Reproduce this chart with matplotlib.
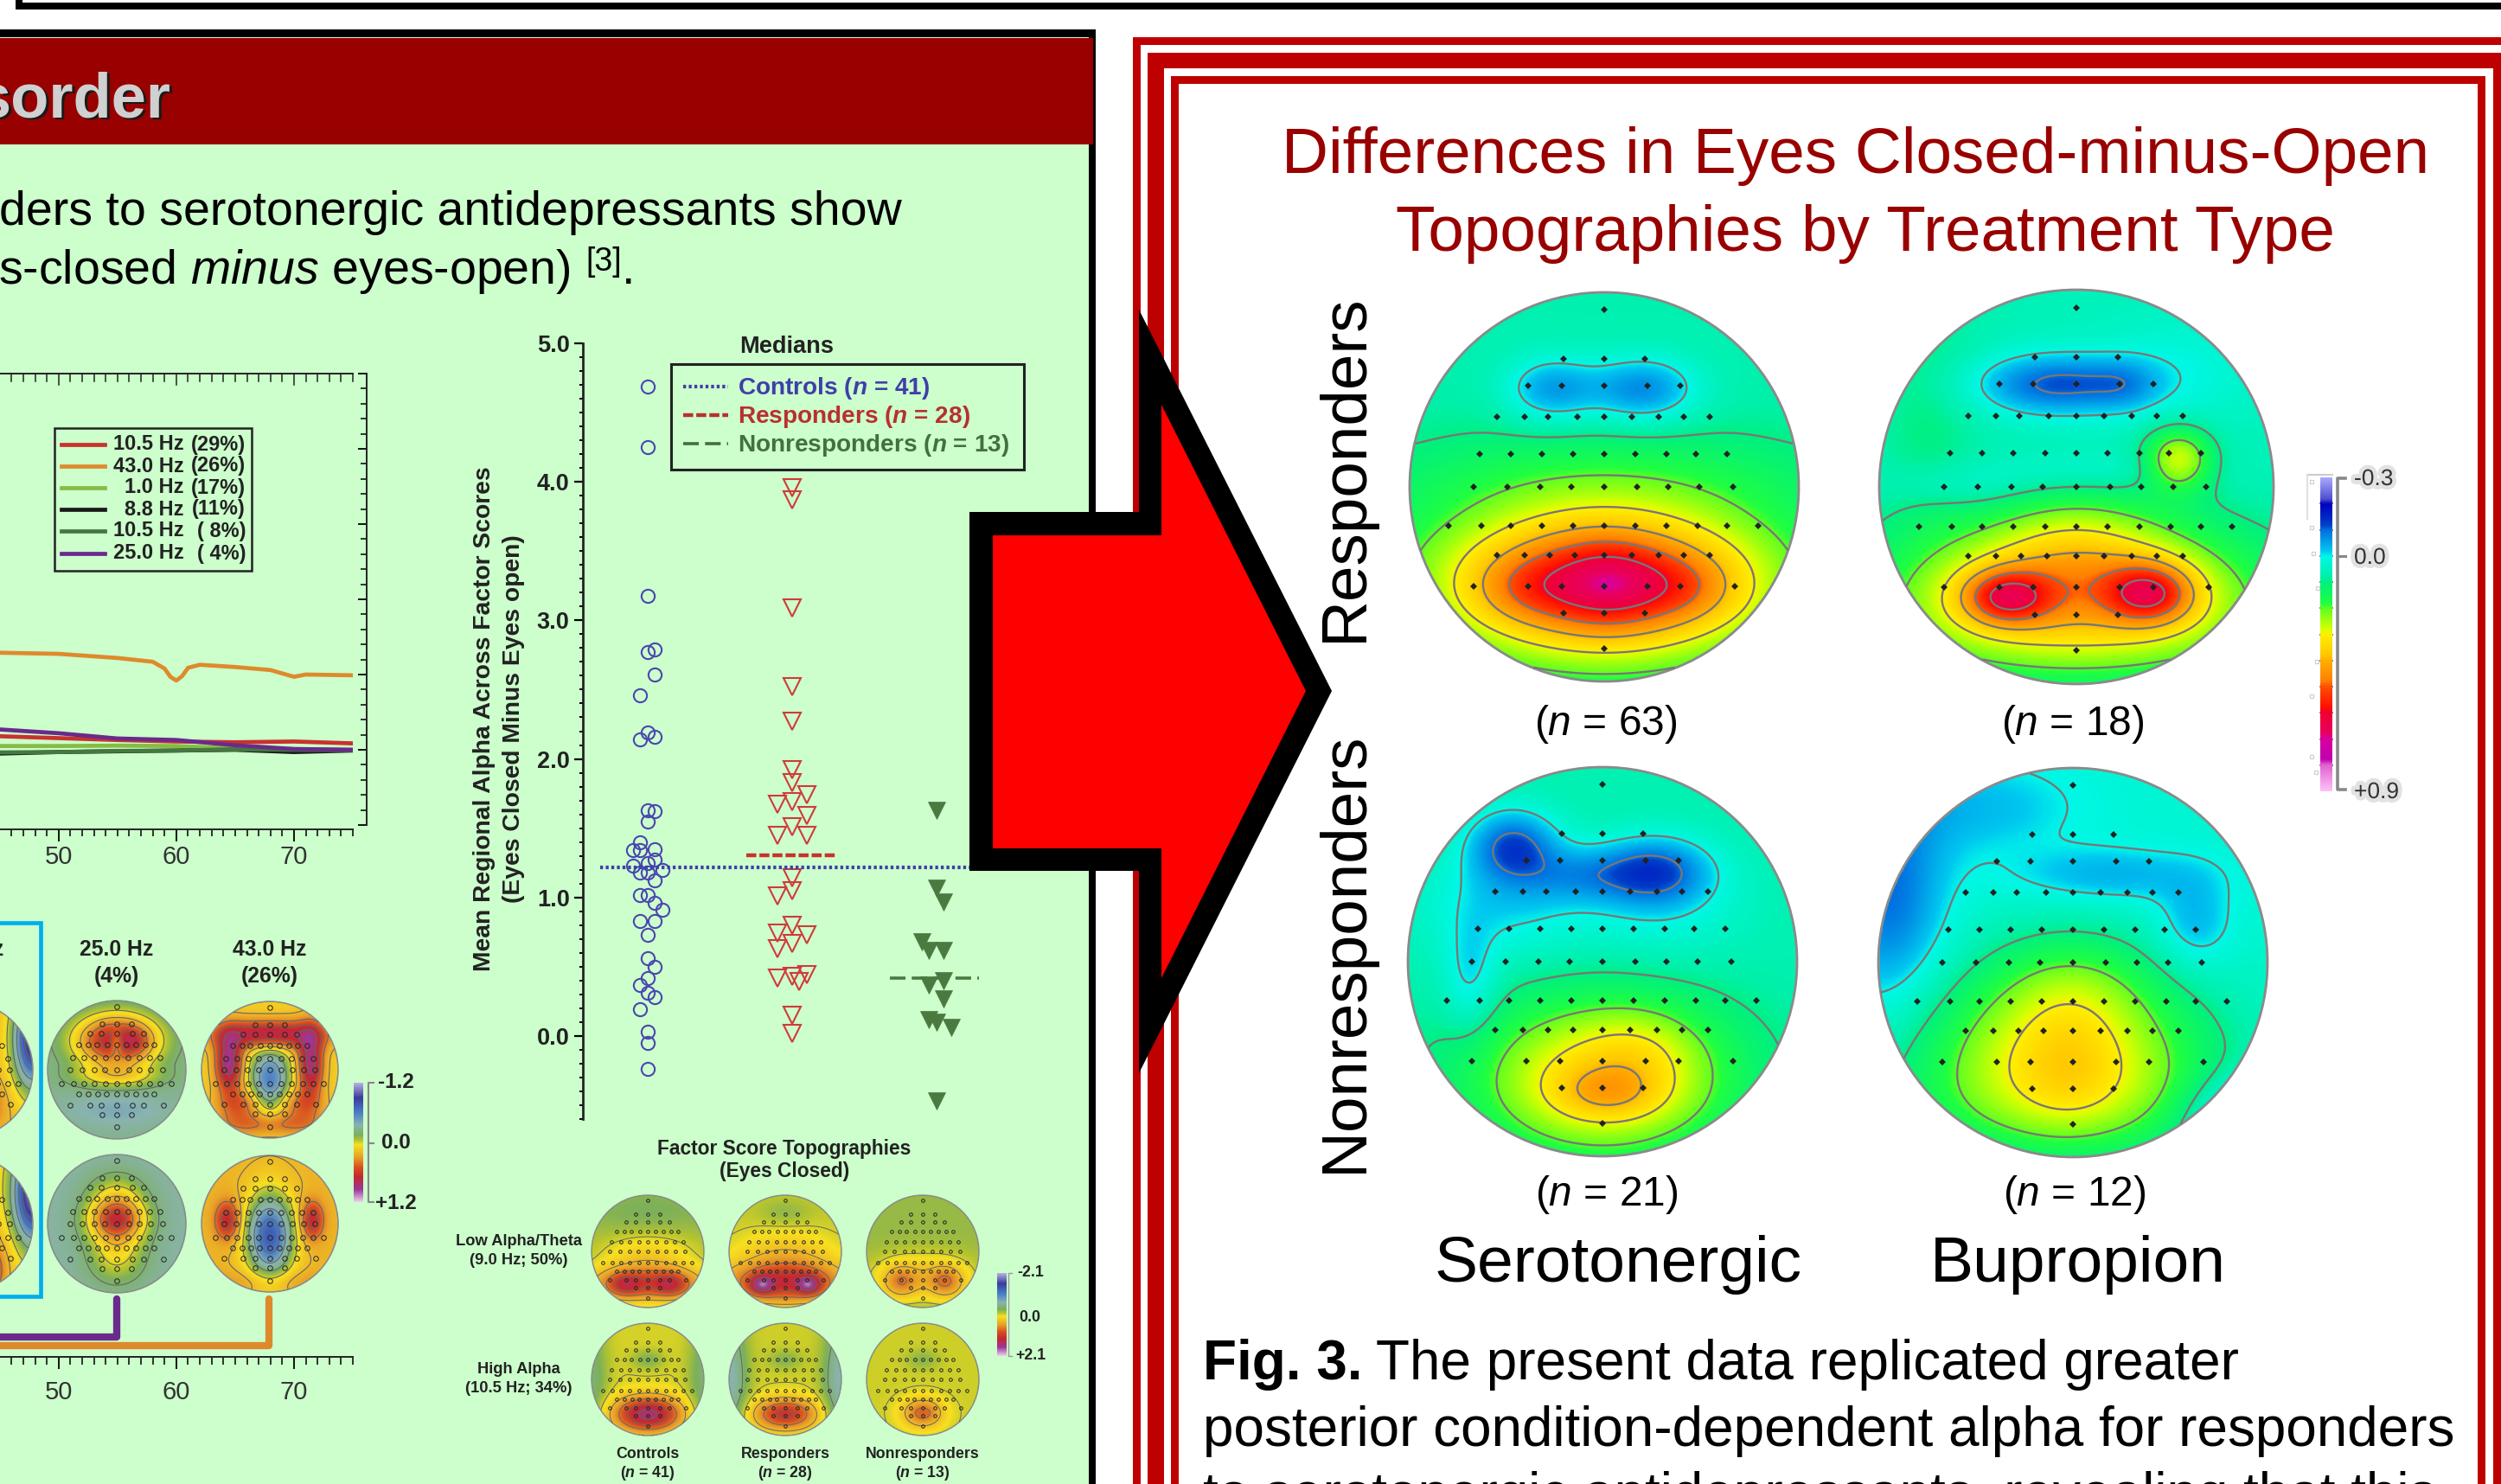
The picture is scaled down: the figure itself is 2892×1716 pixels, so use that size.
import matplotlib
matplotlib.use('Agg')
import matplotlib.pyplot as plt
import numpy as np
from matplotlib.colors import LinearSegmentedColormap
from matplotlib.patches import Rectangle, Polygon, Ellipse
from matplotlib.ticker import MultipleLocator, NullFormatter, NullLocator
import matplotlib.patheffects as pe

plt.rcParams['font.family'] = ['Liberation Sans', 'DejaVu Sans']
plt.rcParams['mathtext.fontset'] = 'custom'
plt.rcParams['mathtext.it'] = 'Liberation Sans:italic'
plt.rcParams['mathtext.rm'] = 'Liberation Sans'
plt.rcParams['mathtext.bfit'] = 'Liberation Sans:italic:bold'
plt.rcParams['mathtext.bf'] = 'Liberation Sans:bold'

W, H = 2892, 1716

# spectra lines, frequency (Hz) against loading
freq = [45, 50, 55, 58, 59, 59.5, 60, 60.5, 61, 62, 65, 68, 70, 71, 75]
load_43 = [1.29, 1.275, 1.22, 1.17, 1.08, 0.97, 0.92, 0.98, 1.09, 1.13, 1.10, 1.06, 0.97, 1.0, 0.99]
freq2 = [45, 50, 55, 60, 65, 70, 75]
load_25 = [0.27, 0.22, 0.15, 0.13, 0.06, 0.01, 0.0]
load_105a = [0.18, 0.155, 0.13, 0.11, 0.10, 0.11, 0.085]
load_10 = [0.05, 0.05, 0.055, 0.05, 0.02, 0.01, 0.0]
load_88 = [-0.05, -0.03, -0.02, -0.01, 0.0, -0.03, -0.01]
load_105b = [-0.035, -0.03, -0.015, -0.01, 0.005, 0.0, -0.005]
spec_names = ['10.5 Hz', '43.0 Hz', '1.0 Hz', '8.8 Hz', '10.5 Hz', '25.0 Hz']
spec_pct = ['(29%)', '(26%)', '(17%)', '(11%)', '( 8%)', '( 4%)']
spec_cols = ['#C8322D', '#DE8A2C', '#86BC45', '#1A1A1A', '#44783F', '#6A2A8C']

# scatter of regional alpha
ctrl_off = [0, 0, 0, 0, 1, 1, -1, 0, 1, -1, 0, 1, 0, -1, -2, -1, 1, 0, 1, -2, -1, 0, 2, 1, -1, 0, 1, 2, -1, 1, 0, 0, 1, 0, -1, 0, 1, -1, 0, 0, 0]
ctrl_val = [4.69, 4.25, 3.18, 2.77, 2.79, 2.61, 2.46, 2.19, 2.16, 2.14, 1.63, 1.62, 1.55, 1.40, 1.34, 1.34, 1.35, 1.25, 1.27, 1.23, 1.18, 1.18, 1.20, 1.12, 1.02, 1.02, 0.96, 0.91, 0.83, 0.83, 0.73, 0.56, 0.50, 0.42, 0.37, 0.31, 0.28, 0.19, 0.03, -0.05, -0.24]
resp_off = [0, 0, 0, 0, 0, 0, 0, 2, -2, 0, 2, 0, -2, 2, 0, 0, -2, 0, -2, 2, 0, -2, -2, 0, 2, 1, 0, 0]
resp_val = [3.96, 3.87, 3.09, 2.52, 2.27, 1.92, 1.83, 1.74, 1.67, 1.69, 1.59, 1.51, 1.45, 1.45, 1.14, 1.05, 1.01, 0.80, 0.74, 0.73, 0.67, 0.63, 0.42, 0.43, 0.44, 0.39, 0.15, 0.02]
nonr_off = [0, 0, 1, -2, -1, 1, 1, -1, 1, -1, 0, 2, 0]
nonr_val = [1.63, 1.07, 0.97, 0.68, 0.62, 0.62, 0.40, 0.37, 0.27, 0.12, 0.10, 0.06, -0.47]
median_ctrl = 1.215
median_resp = 1.305
median_nonr = 0.42

# electrode rows, head coordinates
elec_v = [-0.91, -0.66, -0.52, -0.36, -0.17, 0.0, 0.2, 0.35, 0.51, 0.65, 0.83]
elec_u = [[0], [-.21, 0, .21], [-.39, -.22, 0, .22, .39],
          [-.55, -.41, -.29, -.14, 0, .14, .28, .41, .54],
          [-.64, -.48, -.32, -.16, 0, .16, .32, .47, .63],
          [-.67, -.5, -.33, -.17, 0, .17, .33, .49, .66],
          [-.8, -.63, -.48, -.32, -.16, 0, .16, .32, .48, .63, .79],
          [-.55, -.41, -.28, -.15, 0, .14, .28, .41, .54],
          [-.67, -.39, -.22, 0, .22, .39, .67], [-.21, 0, .21], [0]]

# topographies: background level and (u, v, su, sv, amplitude) bumps read by eye
map_s_resp = (0.07, [(0, .5, .52, .25, .4), (0, .42, .85, .42, .13), (-.27, -.5, .17, .12, -.13), (.2, -.5, .2, .12, -.15),
                     (.02, .5, .17, .15, .08), (0, -.05, .9, .14, .03), (-.4, .52, .2, .12, .07), (.4, .52, .2, .12, .07)])
map_b_resp = (0.06, [(0, .52, .6, .25, .3), (0, .3, .3, .2, .1), (-.36, .56, .16, .1, .28), (.38, .54, .16, .11, .28),
                     (-.1, -.52, .3, .11, -.17), (.25, -.52, .12, .09, -.05), (.55, -.6, .3, .2, -.04), (.52, -.14, .12, .11, .22),
                     (-.6, .0, .25, .08, -.04), (.05, -.08, .4, .08, -.04), (0, .75, .9, .2, .08), (-.75, -.4, .2, .5, .04)])
map_s_nonr = (0.07, [(0, .6, .45, .28, .27), (-.46, -.6, .16, .13, -.17), (.27, -.47, .2, .12, -.16), (-.12, -.45, .2, .1, -.08),
                     (.3, -.3, .3, .2, -.06), (-.5, -.3, .3, .2, -.08), (-.68, .1, .1, .2, -.08), (.03, .68, .2, .1, .1), (.2, .45, .2, .15, .05)])
map_b_nonr = (0.03, [(-.05, .48, .5, .32, .27), (-.02, .55, .17, .2, .04), (-.95, -.35, .2, .4, -.13), (-.5, -.8, .4, .18, -.06), (.2, -.45, .35, .1, -.07),
                     (.63, -.2, .14, .17, -.07), (.0, .1, .28, .2, .08), (0, .75, .7, .2, .06), (.9, .8, .22, .15, -.15)])
map_25_a = (-.28, [(0, -.42, .42, .27, 1.05), (0, -.38, .07, .13, -.35), (.28, -.42, .13, .13, .15), (0, .1, .45, .12, .3), (0, .58, .45, .15, -.12)])
map_25_b = (-.32, [(0, -.05, .3, .22, .75), (0, -.4, .3, .25, .3), (0, .45, .3, .3, .35), (0, -.05, .12, .1, .1)])
map_43_a = (.12, [(0, .15, .2, .36, -.72), (0, -.52, .55, .15, .75), (-.6, -.1, .14, .3, .8), (.6, -.1, .13, .35, .75),
                  (0, .8, .6, .13, .35), (-.4, .5, .25, .16, .35), (.4, .5, .25, .16, .3)])
map_43_b = (.22, [(0, .18, .24, .42, -.98), (-.62, -.05, .13, .2, .5), (.62, -.05, .12, .2, .5), (0, .85, .7, .12, .12)])
map_left_a = (.2, [(1.0, -.45, .2, .5, -1.2), (.2, .5, .2, .22, .55)])
map_left_b = (.1, [(1.0, -.45, .2, .5, -1.2), (.2, .7, .2, .22, .85), (.2, .5, .3, .4, .25)])
map_low_c = (-.15, [(0, .58, .75, .22, 1.1), (-.42, .6, .2, .15, .5), (.42, .6, .2, .15, .5), (0, .05, .6, .28, .35), (0, -.7, .8, .3, -.12)])
map_low_r = (-.05, [(0, .55, .75, .26, 1.25), (-.42, .6, .14, .11, .8), (.42, .6, .14, .11, .8), (0, 0, .6, .28, .3), (0, -.7, .3, .15, -.15)])
map_low_n = (-.18, [(-.4, .55, .22, .2, .55), (.42, .55, .22, .2, .6), (0, .45, .65, .3, .45)])
map_high_c = (0, [(0, .62, .42, .22, 1.5), (0, -.35, .2, .12, -.25), (-1, 0, .2, .8, -.35), (1, 0, .2, .8, -.35)])
map_high_r = (-.02, [(0, .62, .4, .2, 1.15), (0, -.35, .2, .12, -.22), (-1, 0, .22, .8, -.6), (1, 0, .22, .8, -.6)])
map_high_n = (-.02, [(0, .6, .25, .18, .82), (0, -.35, .2, .12, -.2)])

rain_v = [-.3, -.22, -.2, -.12, -.1, -.02, 0, .08, .1, .18, .2, .28, .3, .38, .4, .48, .5, .58, .6, .68, .7, .78, .8, .9]
rain_c = ['#A8A8FF', '#5050D0', '#0000C0', '#0040C8', '#0070E0', '#00C8F0', '#00F8E8', '#00F0A8', '#00F080', '#20FF40', '#60FF20', '#D8FF00',
          '#FFF000', '#FFC800', '#FFB000', '#FF8000', '#FF5000', '#FF1000', '#F00030', '#E80060', '#D800A0', '#C000B0', '#E060D0', '#FFC0F8']
soft_v = [-1.2, -.9, -.6, -.35, -.15, -.05, .05, .3, .5, .7, .95, 1.2]
soft_c = ['#B8B0E4', '#3A3C9C', '#4A80C8', '#8AB4B0', '#7CB05A', '#B4C430', '#F8E020', '#E8A028', '#D85020', '#C42830', '#9C3898', '#ECD0EC']


def make_cmap(vals, cols):
    lo, hi = vals[0], vals[-1]
    return LinearSegmentedColormap.from_list('m', [((v - lo) / (hi - lo), c) for v, c in zip(vals, cols)], N=512)


rain = make_cmap(rain_v, rain_c)
soft = make_cmap(soft_v, soft_c)

fig = plt.figure(figsize=(W / 100, H / 100), dpi=100, facecolor='white')
bg = fig.add_axes([0, 0, 1, 1], zorder=0)
bg.set_xlim(0, W)
bg.set_ylim(H, 0)
bg.axis('off')


def axes_px(x0, y0, x1, y1, **kw):
    return fig.add_axes([x0 / W, 1 - y1 / H, (x1 - x0) / W, (y1 - y0) / H], **kw)


def rect(x0, y0, x1, y1, col, z=1):
    bg.add_patch(Rectangle((x0, y0), x1 - x0, y1 - y0, fc=col, ec='none', zorder=z))


def T(x, y, s, size, ha='center', va='center', color='#222222', weight='normal', **kw):
    return bg.text(x, y, s, fontsize=size, ha=ha, va=va, color=color, fontweight=weight, **kw)


# frame pieces
rect(18, 3, W, 11, 'black')
rect(18, 0, 26, 11, 'black')
rect(0, 34, 1267, H, 'black')
rect(0, 43, 1259, H, '#CCFFCC')
rect(0, 44, 1264, 167, '#990000')
RED = '#BF0000'
rect(1310, 43, W, 52, RED)
rect(1310, 43, 1319, H, RED)
rect(1327, 61, W, 79, RED)
rect(1327, 61, 1346, H, RED)
rect(2883, 61, W, H, RED)
rect(1354, 88, 2874, 97, RED)
rect(1354, 88, 1363, H, RED)
rect(2865, 88, 2874, H, RED)

# header and body text
T(201, 138, 'sorder', 52, ha='right', va='baseline', color='#1A1A1A', weight='bold', zorder=3)
T(198, 135, 'sorder', 52, ha='right', va='baseline', color='#D0D0D0', weight='bold', zorder=3)
T(1043, 260, 'ders to serotonergic antidepressants show', 40, ha='right', va='baseline', color='black', zorder=3)
T(-2, 328, r's-closed $\mathit{minus}$ eyes-open)', 40, ha='left', va='baseline', color='black', zorder=3)
T(677, 303, '[3]', 27, ha='left', va='center', color='black', zorder=3)
T(719, 328, '.', 40, ha='left', va='baseline', color='black', zorder=3)

# right panel text
T(2146, 200, 'Differences in Eyes Closed-minus-Open', 53.8, va='baseline', color='#990000')
T(2157, 290, 'Topographies by Treatment Type', 53.8, va='baseline', color='#990000')
T(1555, 541, 'Responders', 53.8, rotation=90, color='black')
T(1555, 1101, 'Nonresponders', 53.8, rotation=90, color='black')
T(1857, 837, r'($\mathit{n}$ = 63)', 34.5, color='black')
T(2397, 837, r'($\mathit{n}$ = 18)', 34.5, color='black')
T(1858, 1382, r'($\mathit{n}$ = 21)', 34.5, color='black')
T(2399, 1382, r'($\mathit{n}$ = 12)', 34.5, color='black')
T(1871, 1482, 'Serotonergic', 54, va='baseline', color='black')
T(2403, 1482, 'Bupropion', 54, va='baseline', color='black')
T(1391, 1595, 'Fig. 3.', 46, ha='left', va='baseline', color='black', weight='bold')
T(1591, 1595, 'The present data replicated greater', 46, ha='left', va='baseline', color='black')
T(1391, 1672, 'posterior condition-dependent alpha for responders', 46, ha='left', va='baseline', color='black')
T(1391, 1748, 'to serotonergic antidepressants, revealing that this', 46, ha='left', va='baseline', color='black')

uu, vv = np.meshgrid(np.linspace(-1, 1, 320), np.linspace(-1, 1, 320))
eu = np.concatenate(elec_u)
ev = np.concatenate([[v] * len(u) for v, u in zip(elec_v, elec_u)])


def topo(cx, cy, hw, hh, spec, cmap, vmin, vmax, levels, marker, ms, lw, lcol):
    ax = axes_px(cx - hw * 1.02, cy - hh * 1.02, cx + hw * 1.02, cy + hh * 1.02, zorder=2)
    ax.axis('off')
    base, bumps = spec
    z = np.full_like(uu, base, dtype=float)
    for x, y, sx, sy, a in bumps:
        z += a * np.exp(-0.5 * ((uu - x) / sx) ** 2 - 0.5 * ((vv - y) / sy) ** 2)
    z = np.ma.masked_where(uu ** 2 + vv ** 2 > 1, z)
    ax.imshow(z, extent=(-1, 1, 1, -1), cmap=cmap, vmin=vmin, vmax=vmax, interpolation='bilinear')
    ax.contour(uu, vv, z, levels=levels, colors=lcol, linewidths=lw, linestyles='solid')
    ax.add_patch(Ellipse((0, 0), 2, 2, fc='none', ec='#8A8A8A', lw=lw + 0.3))
    if marker == 'o':
        ax.plot(eu, ev, 'o', mfc='none', mec='#222222', ms=ms, mew=0.7)
    else:
        ax.plot(eu, ev, 'D', mfc='#222222', mec='#222222', ms=ms, mew=0)
    ax.set_xlim(-1.02, 1.02)
    ax.set_ylim(1.02, -1.02)


lev_rain = np.arange(-0.2, 0.85, 0.1)
lev_soft = np.arange(-1.0, 1.2, 0.2)
lev_fact = np.arange(-1.75, 2.1, 0.35)

topo(1855, 563, 225, 230, map_s_resp, rain, -.3, .9, lev_rain, 'D', 3.6, 1.7, '#777777')
topo(2401, 563, 228, 230, map_b_resp, rain, -.3, .9, lev_rain, 'D', 3.6, 1.7, '#777777')
topo(1853, 1112, 229, 225, map_s_nonr, rain, -.3, .9, lev_rain, 'D', 3.6, 1.7, '#777777')
topo(2397, 1113, 228, 225, map_b_nonr, rain, -.3, .9, lev_rain, 'D', 3.6, 1.7, '#777777')

topo(135, 1237, 80, 80, map_25_a, soft, -1.2, 1.2, lev_soft, 'o', 4, 0.8, '#666666')
topo(135, 1415, 80, 80, map_25_b, soft, -1.2, 1.2, lev_soft, 'o', 4, 0.8, '#666666')
topo(312, 1237, 79, 80, map_43_a, soft, -1.2, 1.2, lev_soft, 'o', 4, 0.8, '#666666')
topo(312, 1415, 79, 80, map_43_b, soft, -1.2, 1.2, lev_soft, 'o', 4, 0.8, '#666666')
topo(-41, 1237, 79, 80, map_left_a, soft, -1.2, 1.2, lev_soft, 'o', 4, 0.8, '#666666')
topo(-41, 1415, 79, 80, map_left_b, soft, -1.2, 1.2, lev_soft, 'o', 4, 0.8, '#666666')

for cx, a, b in [(749, map_low_c, map_high_c), (908, map_low_r, map_high_r), (1067, map_low_n, map_high_n)]:
    topo(cx, 1447, 65, 66, a, soft, -2.1, 2.1, lev_fact, 'o', 2.6, 0.7, '#666666')
    topo(cx, 1595, 65, 66, b, soft, -2.1, 2.1, lev_fact, 'o', 2.6, 0.7, '#666666')

# small text near the topographies
T(4, 1098, '10.5 Hz', 17.8, ha='right', weight='bold')
T(135, 1098, '25.0 Hz', 17.8, weight='bold')
T(135, 1129, '(4%)', 17.8, weight='bold')
T(312, 1098, '43.0 Hz', 17.8, weight='bold')
T(312, 1129, '(26%)', 17.8, weight='bold')
bg.add_patch(Rectangle((-20, 1067), 66.5, 432, fc='none', ec='#00AEEF', lw=3.4, zorder=1.5))
bg.plot([0, 135, 135], [1546, 1546, 1502], color='#6A2A8C', lw=6, solid_capstyle='round', solid_joinstyle='round', zorder=1.5)
bg.plot([0, 311, 311], [1556, 1556, 1502], color='#DE8A2C', lw=6, solid_capstyle='round', solid_joinstyle='round', zorder=1.5)

T(907, 1328, 'Factor Score Topographies', 16.4, weight='bold')
T(907, 1355, '(Eyes Closed)', 16.4, weight='bold')
T(600, 1435, 'Low Alpha/Theta', 13.2, weight='bold')
T(600, 1457, '(9.0 Hz; 50%)', 13.2, weight='bold')
T(600, 1583, 'High Alpha', 13.2, weight='bold')
T(600, 1605, '(10.5 Hz; 34%)', 13.2, weight='bold')
for cx, name, lab in [(749, 'Controls', r'($\mathbfit{n}$ = 41)'), (908, 'Responders', r'($\mathbfit{n}$ = 28)'), (1067, 'Nonresponders', r'($\mathbfit{n}$ = 13)')]:
    T(cx, 1682, name, 12.8, weight='bold')
    T(cx, 1704, lab, 12.8, weight='bold')


def cbar(x0, y0, x1, y1, cmap):
    ax = axes_px(x0, y0, x1, y1, zorder=2)
    ax.imshow(np.linspace(0, 1, 256)[:, None], aspect='auto', cmap=cmap)
    ax.axis('off')


cbar(409, 1252, 420, 1390, soft)
bg.plot([432, 425.5, 425.5, 432], [1252, 1252, 1390, 1390], color='#888888', lw=1.5)
bg.plot([425.5, 432], [1322, 1322], color='#888888', lw=1.5)
T(437, 1252, '-1.2', 17.5, ha='left', weight='bold')
T(441, 1322, '0.0', 17.5, ha='left', weight='bold')
T(434, 1391, '+1.2', 17.5, ha='left', weight='bold')

cbar(1153, 1472, 1164, 1568, soft)
bg.plot([1170, 1166, 1166, 1170], [1472, 1472, 1568, 1568], color='#999999', lw=1)
T(1176, 1472, '-2.1', 12.8, ha='left', weight='bold')
T(1178, 1523, '0.0', 12.8, ha='left', weight='bold')
T(1174, 1568, '+2.1', 12.8, ha='left', weight='bold')

cbar(2683, 552, 2697, 915, rain)
for v in lev_rain:
    yy = 552 + (v + 0.3) / 1.2 * 363
    bg.plot([2683, 2697], [yy, yy], color='#555555', lw=1.2, zorder=3)
bg.plot([2712, 2703, 2703, 2712], [553, 553, 913, 913], color='#888888', lw=2.6)
bg.plot([2703, 2712], [643, 643], color='#888888', lw=2.2)
bg.plot([2668, 2697], [549, 549], color='#CCCCCC', lw=1.5)
bg.plot([2668, 2668], [549, 600], color='#E0E0E0', lw=1.5)
bg.plot([2673, 2673, 2675, 2680, 2679, 2673, 2673, 2678], [557, 610, 640, 680, 765, 805, 875, 893], 's', mfc='none', mec='#CFCFCF', ms=3.5, mew=0.9)
halo = [pe.withStroke(linewidth=7, foreground='#E2E2E2')]
for yy, s in [(554, '-0.3'), (645, '0.0'), (916, '+0.9')]:
    T(2722, yy, s, 19, ha='left', color='#333333', path_effects=halo)

# spectra plot
ax = axes_px(0, 432, 408, 954, zorder=1.2)
ax.patch.set_alpha(0)
ax.plot(freq2, load_105a, color=spec_cols[0], lw=3.4)
ax.plot(freq2, load_10, color=spec_cols[2], lw=3.4)
ax.plot(freq2, load_88, color=spec_cols[3], lw=3.4)
ax.plot(freq2, load_105b, color=spec_cols[4], lw=3.4)
ax.plot(freq2, load_25, color=spec_cols[5], lw=3.4)
ax.plot(freq, load_43, color=spec_cols[1], lw=3.4)
ax.set_xlim(45.02, 75)
ax.set_ylim(-1, 5)
ax.spines['left'].set_visible(False)
ax.spines['right'].set_position(('outward', 11.5))
ax.spines['bottom'].set_position(('outward', 3.6))
for s in ['right', 'bottom', 'top']:
    ax.spines[s].set_linewidth(1.4)
    ax.spines[s].set_color('#222222')
ax.xaxis.set_major_locator(MultipleLocator(10))
ax.xaxis.set_minor_locator(MultipleLocator(1))
ax.yaxis.set_major_locator(MultipleLocator(1))
ax.yaxis.set_minor_locator(MultipleLocator(0.2))
ax.yaxis.set_ticks_position('right')
ax.yaxis.set_major_formatter(NullFormatter())
ax.xaxis.set_ticks_position('both')
ax.tick_params(axis='x', which='major', direction='out', length=10, width=1.3, labelsize=21, labelcolor='#333333', pad=3, top=False)
ax.tick_params(axis='x', which='minor', direction='out', length=6, width=1.1, top=False)
ax.tick_params(axis='y', which='major', direction='in', length=7, width=1.3)
ax.tick_params(axis='y', which='minor', direction='in', length=5, width=1.1)
for xv in np.arange(46, 76):
    ax.plot([xv, xv], [5, 5 - (0.15 if xv % 10 == 0 else 0.1)], color='#222222', lw=1.1, clip_on=False)

# spectra legend
bg.add_patch(Rectangle((63, 495), 228, 165, fc='#CCFFCC', ec='#222222', lw=1.8, zorder=1.6))
for i, yy in enumerate([514, 539, 564, 589, 614, 640]):
    bg.plot([71, 121], [yy, yy], color=spec_cols[i], lw=3.4, zorder=1.7)
    T(213, yy, spec_names[i], 17, ha='right', weight='bold', zorder=1.7)
    T(284, yy, spec_pct[i], 17, ha='right', weight='bold', zorder=1.7)

# lower frequency axis
ax2 = axes_px(0, 1569, 408, 1575, zorder=1.2)
ax2.patch.set_alpha(0)
ax2.set_xlim(45.02, 75)
for s in ['left', 'right', 'bottom']:
    ax2.spines[s].set_visible(False)
ax2.spines['top'].set_linewidth(1.4)
ax2.spines['top'].set_color('#222222')
ax2.spines['top'].set_zorder(3)
ax2.xaxis.set_ticks_position('top')
ax2.xaxis.set_major_locator(MultipleLocator(10))
ax2.xaxis.set_minor_locator(MultipleLocator(1))
ax2.yaxis.set_major_locator(NullLocator())
ax2.tick_params(axis='x', which='major', direction='in', length=10, width=1.3, labelbottom=True, labeltop=False, labelsize=21, labelcolor='#333333', pad=4, bottom=False, top=True)
ax2.tick_params(axis='x', which='minor', direction='in', length=6.5, width=1.1, bottom=False, top=True)
for lb in ax2.get_xticklabels():
    lb.set_y(-2.6)

# scatter plot
sx = axes_px(674, 397, 1250, 1294, zorder=1.3)
sx.patch.set_alpha(0)
sx.set_xlim((674 - 748.6) / 8.5, (1250 - 748.6) / 8.5)
sx.set_ylim(-0.6, 5.0)
col_ctrl, col_resp, col_nonr = 0, 19.66, 39.3
sx.plot(np.array(ctrl_off) + col_ctrl, ctrl_val, 'o', mfc='none', mec='#4A46B0', ms=11, mew=1.5, clip_on=False)
sx.plot(np.array(resp_off) + col_resp, resp_val, 'v', mfc='none', mec='#D03A3A', ms=14, mew=1.5, clip_on=False)
sx.plot(np.array(nonr_off) + col_nonr, nonr_val, 'v', mfc='#4A7A40', mec='#4A7A40', ms=14, mew=0.5, clip_on=False)
sx.plot([-6.4, 44], [median_ctrl, median_ctrl], color='#3F3FAA', lw=3, ls=(0, (0.8, 0.75)))
sx.plot([13.4, 25.7], [median_resp, median_resp], color='#C8322A', lw=3.2, ls=(0, (2.6, 0.8)))
sx.plot([33, 45.1], [median_nonr, median_nonr], color='#4A7A40', lw=2.6, ls=(0, (5, 2)))
for s in ['top', 'right', 'bottom']:
    sx.spines[s].set_visible(False)
sx.spines['left'].set_linewidth(2)
sx.spines['left'].set_color('#222222')
sx.xaxis.set_major_locator(NullLocator())
sx.yaxis.set_major_locator(MultipleLocator(1))
sx.yaxis.set_minor_locator(MultipleLocator(0.1))
sx.yaxis.set_major_formatter(lambda v, p: '%.1f' % v)
sx.tick_params(axis='y', which='major', length=7, width=1.6, labelsize=19.5, pad=4)
sx.tick_params(axis='y', which='minor', length=3, width=1.4)
for lb in sx.get_yticklabels():
    lb.set_fontweight('bold')
    lb.set_color('#222222')

T(560, 831, 'Mean Regional Alpha Across Factor Scores', 20.3, rotation=90, weight='bold')
T(594, 831, '(Eyes Closed Minus Eyes open)', 20.3, rotation=90, weight='bold')
T(910, 401, 'Medians', 19.6, weight='bold')
bg.add_patch(Rectangle((776, 421), 408, 122, fc='none', ec='#222222', lw=2.2, zorder=1.6))
for yy, col, txt, sty, lw in [(449, '#3F3FA8', r'Controls ($\mathbfit{n}$ = 41)', (0, (0.8, 0.75)), 3),
                              (482, '#B83030', r'Responders ($\mathbfit{n}$ = 28)', (0, (2.6, 0.8)), 3.2),
                              (515, '#44703F', r'Nonresponders ($\mathbfit{n}$ = 13)', (0, (5, 2)), 2.6)]:
    bg.plot([790, 842], [yy - 2, yy - 2], color=col, lw=lw, ls=sty, zorder=1.7)
    T(853, yy, txt, 20.2, ha='left', color=col, weight='bold', zorder=1.7)

# arrow on top
top = axes_px(0, 0, W, H, zorder=10)
top.set_xlim(0, W)
top.set_ylim(H, 0)
top.axis('off')
top.add_patch(Polygon([(1121, 592), (1317, 592), (1317, 358), (1540, 799), (1317, 1241), (1317, 1007), (1121, 1007)], fc='black', ec='none'))
top.add_patch(Polygon([(1148, 619), (1343, 619), (1343, 468), (1510, 799), (1343, 1131), (1343, 981), (1148, 981)], fc='#FF0000', ec='none'))

fig.savefig('out.png', dpi=100)
